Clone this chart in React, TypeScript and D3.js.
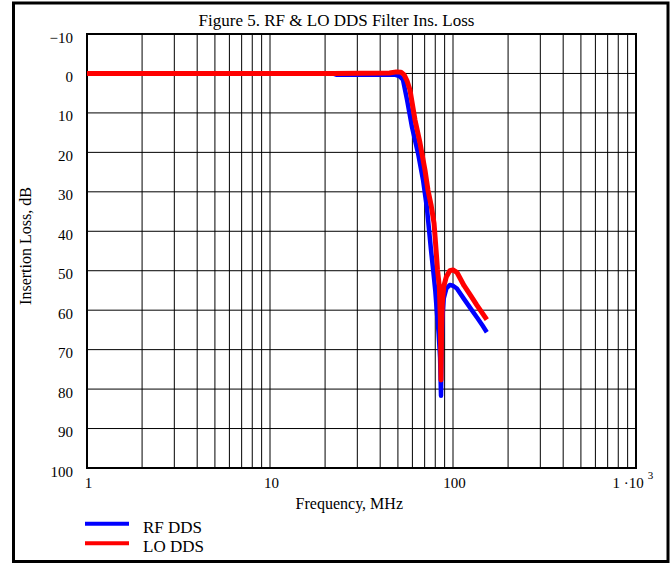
import React from "react";
import * as d3 from "d3";

const rfFreq = [1, 22, 23, 48, 51, 53.3, 56.1, 59.7, 64.4, 68.6, 72, 75.8, 78, 80, 81.5, 83.5, 85, 86, 86.7, 87.5, 89, 92, 96, 100, 105, 115, 125, 135, 145, 153];
const rfLoss = [0, 0, 0.3, 0.3, 0.7, 1.6, 6.7, 13.6, 20.2, 27, 34, 44.7, 50, 55, 60, 66, 72, 81.7, 70, 62, 57, 54.5, 53.6, 53.8, 54.5, 57.2, 59.6, 61.8, 63.9, 65.6];

const loFreq = [1, 22, 45, 49, 52, 54, 56, 58.2, 62, 66, 70.3, 73, 76, 78.8, 80.8, 82.3, 84.2, 85.3, 86, 86.6, 87.5, 89, 92, 96, 100, 105, 115, 125, 135, 145, 153];
const loLoss = [0, 0, -0.1, -0.4, -0.3, 0.3, 1.8, 4.2, 11.8, 17.6, 24.5, 29.6, 33.5, 38, 44.7, 49.8, 54, 62, 77.7, 65, 58, 54, 51.5, 50, 49.8, 50.4, 53.8, 56.3, 58.7, 60.8, 62.4];

const yTicks = [-10, 0, 10, 20, 30, 40, 50, 60, 70, 80, 90, 100];
const xTickLabels = ["1", "10", "100"];
const xTickValues = [1, 10, 100];

const seriesNames = ["RF DDS", "LO DDS"];
const seriesColors = ["#0000ff", "#ff0000"];

const title = "Figure 5. RF & LO DDS Filter Ins. Loss";
const xTitle = "Frequency, MHz";
const yTitle = "Insertion Loss, dB";

const FONT = "'Liberation Serif', 'Times New Roman', serif";

export default function App() {
  const W = 671, H = 563;
  const left = 87, right = 636, top = 34, bottom = 468;
  const x = d3.scaleLog().domain([1, 1000]).range([left, right]);
  const y = d3.scaleLinear().domain([-10, 100]).range([top, bottom]);

  const gridX: number[] = [];
  for (let k = 0; k < 3; k++) {
    for (let m = 1; m <= 9; m++) gridX.push(m * Math.pow(10, k));
  }
  gridX.push(1000);

  const line = d3
    .line<[number, number]>()
    .x((d) => x(d[0]))
    .y((d) => y(d[1]));

  const rf = rfFreq.map((f, i) => [f, rfLoss[i]] as [number, number]);
  const lo = loFreq.map((f, i) => [f, loLoss[i]] as [number, number]);

  return (
    <svg
      width={W}
      height={H}
      style={{ position: "absolute", left: 0, top: 0, background: "#fff" }}
      fontFamily={FONT}
    >
      <rect x={0} y={0} width={W} height={H} fill="#fff" />
      <rect x={13.5} y={3} width={654.5} height={558.5} fill="none" stroke="#000" strokeWidth={3} />

      <text x={336.5} y={26} fontSize={17} fontFamily={FONT} textAnchor="middle">{title}</text>

      {gridX.map((v, i) => (
        <line key={"gx" + i} x1={x(v)} x2={x(v)} y1={top} y2={bottom} stroke="#000" strokeWidth={1} />
      ))}
      {yTicks.map((v, i) => (
        <line key={"gy" + i} x1={left} x2={right} y1={y(v)} y2={y(v)} stroke="#000" strokeWidth={1} />
      ))}
      <rect x={left} y={top} width={right - left} height={bottom - top} fill="none" stroke="#000" strokeWidth={2} />

      {yTicks.map((v, i) => (
        <text key={"yt" + i} x={73} y={y(v) + 8.5} fontSize={15} fontFamily={FONT} textAnchor="end">
          {v < 0 ? "\u2212" + Math.abs(v) : String(v)}
        </text>
      ))}
      {xTickValues.map((v, i) => (
        <text key={"xt" + i} x={x(v) + 1.5} y={bottom + 19.7} fontSize={15} fontFamily={FONT} textAnchor="middle">
          {xTickLabels[i]}
        </text>
      ))}
      <text x={x(1000) - 23.5} y={bottom + 19.7} fontSize={15} fontFamily={FONT}>
        1 ·10
        <tspan dx={4} dy={-9} fontSize={11}>3</tspan>
      </text>

      <text x={349.3} y={509} fontSize={16} fontFamily={FONT} textAnchor="middle">{xTitle}</text>
      <text transform="translate(31,246) rotate(-90)" fontSize={16} fontFamily={FONT} textAnchor="middle">{yTitle}</text>

      <path d={line(rf) || ""} fill="none" stroke={seriesColors[0]} strokeWidth={4.5} strokeLinejoin="round" />
      <path d={line(lo) || ""} fill="none" stroke={seriesColors[1]} strokeWidth={5} strokeLinejoin="round" />

      {seriesNames.map((n, i) => (
        <g key={"lg" + i}>
          <line x1={85} x2={129} y1={523.7 + i * 19.6} y2={523.7 + i * 19.6} stroke={seriesColors[i]} strokeWidth={4} />
          <text x={143} y={532.7 + i * 19.4} fontSize={17} fontFamily={FONT}>{n}</text>
        </g>
      ))}
    </svg>
  );
}
